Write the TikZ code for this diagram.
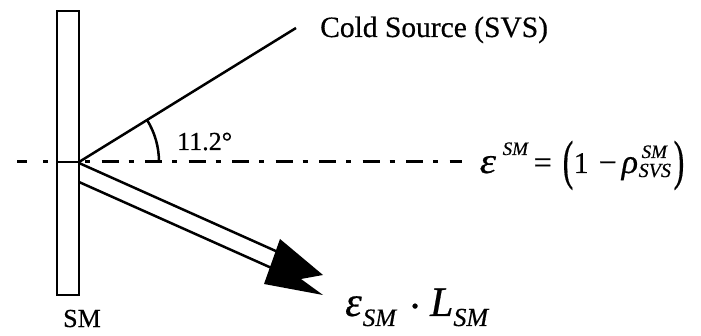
\documentclass[tikz,border=0pt]{standalone}
\usepackage{graphicx}
\usepackage{fontspec}
\setmainfont{Liberation Serif}[FakeBold=0.5]
\newcommand\scr[1]{{\fontsize{19}{19}\selectfont\itshape #1}}
\newcommand\scrb[1]{{\fontsize{25}{25}\selectfont\itshape #1}}
\newcommand\bigparen[1]{\raisebox{-5.5pt}{\scalebox{1}[1.7]{#1}}}
\newcommand\at[2]{\rlap{\hspace{#1}#2}}
\tikzset{
  outline/.style={line width=2.5pt},
  axisline/.style={line width=3pt, dash pattern=on 17pt off 10pt on 5pt off 11.5pt},
  lbl/.style={anchor=base west, inner sep=0pt},
}
\begin{document}
\begin{tikzpicture}[x=1pt,y=-1pt]
\useasboundingbox (0,0) rectangle (701,336);
\fill[white] (0,0) rectangle (701,336);
% mirror bar
\draw[outline] (57,11) rectangle (79,295);
\coordinate (O) at (79,162);
\coordinate (Bl) at (57,162);
\coordinate (Al) at (17,162);
\coordinate (Ar) at (462,162);
\coordinate (C) at (296,28);
% axis
\draw[axisline, dash pattern=on 10pt off 16pt on 5pt off 20pt] (Al) -- (Bl);
\draw[outline] (Bl) -- (O);
\draw[axisline, dash phase=21pt] (O) -- (Ar);
% cold source line and angle arc
\draw[outline] (O) -- (C);
\draw[outline] (159,162) arc[start angle=0, end angle=-31.7, radius=80];
% hollow arrow
\coordinate (U0) at (79,163);
\coordinate (U1) at (288,256.5);
\coordinate (L0) at (79,182);
\coordinate (L1) at (285,274);
\draw[outline] (U0) -- (U1);
\draw[outline] (L0) -- (L1);
\fill[black] (280,239) -- (323,275) -- (301,279) -- (323,295) -- (264,284) -- cycle;
% labels
\node[lbl, font=\fontsize{29.5}{30}\selectfont] (cold) at (320,37) {Cold Source (SVS)};
\node[lbl, font=\fontsize{26}{26}\selectfont] (ang) at (177,150) {11.2°};
\node[lbl, font=\fontsize{26}{26}\selectfont] (sm) at (63,327) {SM};
\node[lbl, font=\fontsize{32}{32}\selectfont] (eq) at (478,173)
  {\at{1pt}{\scalebox{1.15}[1]{\fontsize{36}{36}\selectfont\itshape ε}}%
   \at{24pt}{\raisebox{18pt}{\scr{SM}}}%
   \at{55pt}{=}%
   \at{84pt}{\bigparen{(}}%
   \at{95pt}{\fontsize{30}{30}\selectfont 1}%
   \at{120pt}{−}%
   \at{143pt}{{\fontsize{34}{34}\selectfont\itshape ρ}}%
   \at{163pt}{\raisebox{15pt}{\scr{SM}}}%
   \at{160pt}{\raisebox{-4pt}{\fontsize{20}{20}\selectfont\itshape SVS}}%
   \at{195pt}{\bigparen{)}}%
   \hspace{206pt}};
\node[lbl, font=\fontsize{42}{42}\selectfont] (rad) at (345,316)
  {{\itshape ε}\hspace{1pt}\raisebox{-10pt}{\scrb{SM}}\hspace{12pt}\raisebox{-4pt}{·}\hspace{8pt}{\itshape L}\raisebox{-10pt}{\fontsize{26}{26}\selectfont\itshape SM}};
\end{tikzpicture}
\end{document}
